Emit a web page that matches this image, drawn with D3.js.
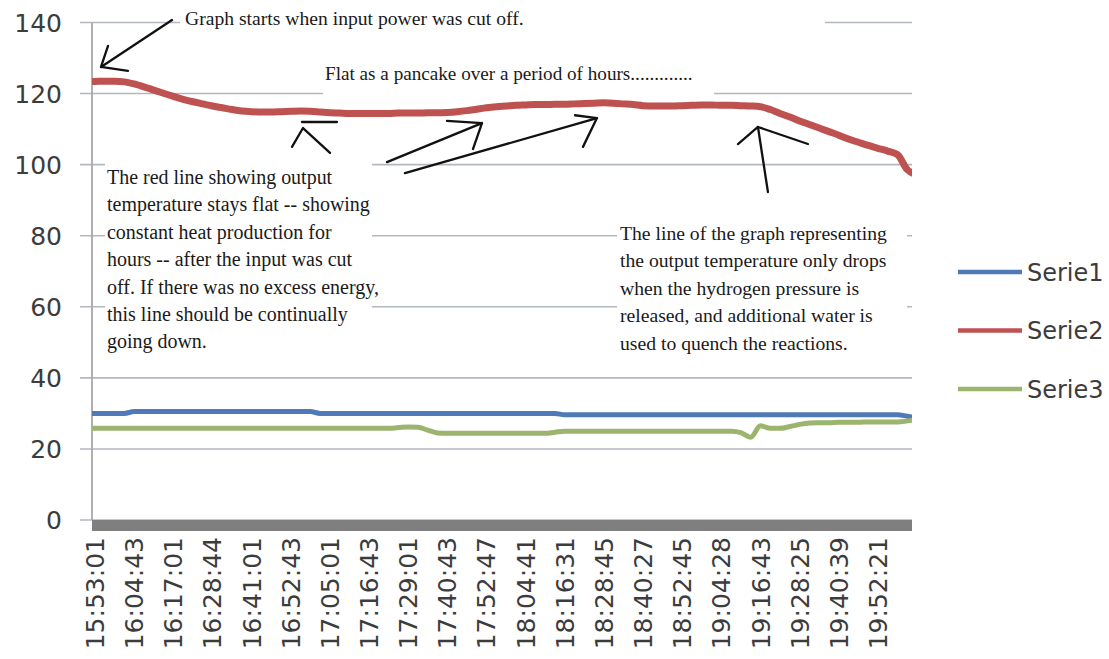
<!DOCTYPE html>
<html>
<head>
<meta charset="utf-8">
<script src="https://cdn.jsdelivr.net/npm/d3@7/dist/d3.min.js"></script>
<style>
  html, body { margin: 0; padding: 0; background: #fff; }
  svg { display: block; }
</style>
</head>
<body>
<svg id="chart" width="1109" height="659"></svg>
<script>
// tick labels on the category axis (one every ~11.7 minutes)
const timeLabels = ['15:53:01', '16:04:43', '16:17:01', '16:28:44', '16:41:01', '16:52:43',
  '17:05:01', '17:16:43', '17:29:01', '17:40:43', '17:52:47', '18:04:41', '18:16:31',
  '18:28:45', '18:40:27', '18:52:45', '19:04:28', '19:16:43', '19:28:25', '19:40:39', '19:52:21'];
const yTicks = [0, 20, 40, 60, 80, 100, 120, 140];
const seriesNames = ['Serie1', 'Serie2', 'Serie3'];

// samples every quarter of a label interval, from -0.25 to 21
const samplePos = d3.range(-1, 85).map(k => k / 4);

const serie1 = [
  30.0, 30.0, 30.0, 30.0, 30.0,
  30.5, 30.5, 30.5, 30.5,
  30.5, 30.5, 30.5, 30.5,
  30.5, 30.5, 30.5, 30.5,
  30.5, 30.5, 30.5, 30.5,
  30.5, 30.5, 30.5, 30.0,
  30.0, 30.0, 30.0, 30.0,
  30.0, 30.0, 30.0, 30.0,
  30.0, 30.0, 30.0, 30.0,
  30.0, 30.0, 30.0, 30.0,
  30.0, 30.0, 30.0, 30.0,
  30.0, 30.0, 30.0, 30.0,
  29.6, 29.6, 29.6, 29.6,
  29.6, 29.6, 29.6, 29.6,
  29.6, 29.6, 29.6, 29.6,
  29.6, 29.6, 29.6, 29.6,
  29.6, 29.6, 29.6, 29.6,
  29.6, 29.6, 29.6, 29.6,
  29.6, 29.6, 29.6, 29.6,
  29.6, 29.6, 29.6, 29.6,
  29.6, 29.6, 29.6, 29.2,
  28.8
];

const serie2 = [
  123.3, 123.4, 123.5, 123.5, 123.3,
  122.7, 121.9, 121.0, 120.1,
  119.2, 118.4, 117.7, 117.1,
  116.5, 116.0, 115.5, 115.1,
  114.9, 114.8, 114.8, 114.9,
  115.0, 115.1, 115.0, 114.8,
  114.6, 114.5, 114.4, 114.4,
  114.4, 114.4, 114.4, 114.5,
  114.5, 114.5, 114.6, 114.6,
  114.7, 114.9, 115.2, 115.6,
  116.0, 116.3, 116.5, 116.7,
  116.8, 116.9, 116.9, 117.0,
  117.0, 117.1, 117.2, 117.3,
  117.4, 117.3, 117.1, 116.9,
  116.6, 116.5, 116.5, 116.5,
  116.6, 116.7, 116.8, 116.8,
  116.7, 116.7, 116.6, 116.5,
  116.3, 115.5, 114.4, 113.4,
  112.3, 111.3, 110.3, 109.3,
  108.3, 107.2, 106.3, 105.4,
  104.6, 103.8, 102.8, 98.6,
  97.2
];

const serie3 = [
  25.8, 25.8, 25.8, 25.8, 25.8,
  25.8, 25.8, 25.8, 25.8,
  25.8, 25.8, 25.8, 25.8,
  25.8, 25.8, 25.8, 25.8,
  25.8, 25.8, 25.8, 25.8,
  25.8, 25.8, 25.8, 25.8,
  25.8, 25.8, 25.8, 25.8,
  25.8, 25.8, 25.8, 26.0,
  26.2, 26.1, 25.3, 24.5,
  24.4, 24.4, 24.4, 24.4,
  24.4, 24.4, 24.4, 24.4,
  24.4, 24.4, 24.4, 24.7,
  25.0, 25.0, 25.0, 25.0,
  25.0, 25.0, 25.0, 25.0,
  25.0, 25.0, 25.0, 25.0,
  25.0, 25.0, 25.0, 25.0,
  25.0, 25.0, 24.6, 23.3,
  26.5, 25.8, 25.8, 26.3,
  26.9, 27.3, 27.4, 27.4,
  27.5, 27.5, 27.5, 27.6,
  27.6, 27.6, 27.6, 27.9,
  28.3
];

// hand drawn arrows, in (category position, value) units
const arrowPaths = [
  [[1.967, 140.7], [0.153, 127.5]],
  [[0.332, 133.4], [0.153, 127.5], [0.843, 126.4]],
  [[5.287, 112.0], [6.181, 112.0]],
  [[5.032, 105.0], [5.313, 110.3], [6.003, 103.3]],
  [[7.458, 100.7], [9.885, 111.7]],
  [[8.991, 112.3], [9.885, 111.7], [9.655, 104.4]],
  [[7.918, 97.6], [12.822, 113.1]],
  [[12.261, 113.9], [12.822, 113.1], [12.465, 105.0]],
  [[17.19, 92.3], [16.935, 110.6]],
  [[16.424, 105.8], [16.935, 110.6], [18.212, 105.8]]
];

const colors = ['#5079b8', '#be5251', '#9bb46e'];
const widths = [5, 7, 5];

const svg = d3.select('#chart');
const plot = { left: 92, right: 912, top: 22.5, bottom: 520 };

const x = d3.scaleLinear().domain([-0.077, 20.87]).range([plot.left, plot.right]);
const y = d3.scaleLinear().domain([0, 140]).range([plot.bottom, plot.top]);

svg.append('defs').append('clipPath').attr('id', 'clip')
  .append('rect')
  .attr('x', plot.left).attr('y', 0)
  .attr('width', plot.right - plot.left).attr('height', plot.bottom);

// gridlines, running out past the axis as tick marks
svg.append('g')
  .selectAll('line')
  .data(yTicks)
  .enter()
  .append('line')
  .attr('x1', 80).attr('x2', plot.right)
  .attr('y1', d => y(d)).attr('y2', d => y(d))
  .attr('stroke', '#b3b8c0')
  .attr('stroke-width', 1.6);

svg.append('line')
  .attr('x1', plot.left).attr('x2', plot.left)
  .attr('y1', plot.top).attr('y2', plot.bottom)
  .attr('stroke', '#a8a8a8')
  .attr('stroke-width', 1.8);

svg.append('g')
  .selectAll('text')
  .data(yTicks)
  .enter()
  .append('text')
  .attr('x', 62)
  .attr('y', d => y(d))
  .attr('dy', '0.36em')
  .attr('text-anchor', 'end')
  .style('font-family', 'DejaVu Sans')
  .style('font-size', '25px')
  .style('fill', '#3c3c3c')
  .text(d => d);

// thick grey band along the category axis
svg.append('rect')
  .attr('x', plot.left).attr('y', y(0))
  .attr('width', plot.right - plot.left).attr('height', 11)
  .attr('fill', '#7f7f7f');

svg.append('g')
  .selectAll('text')
  .data(timeLabels)
  .enter()
  .append('text')
  .attr('transform', (d, i) => `translate(${x(i)}, 537) rotate(-90)`)
  .attr('dy', '0.36em')
  .attr('text-anchor', 'end')
  .style('font-family', 'DejaVu Sans')
  .style('font-size', '25px')
  .style('fill', '#3c3c3c')
  .text(d => d);

// white text boxes that hide the gridlines behind the notes
const boxes = [
  [180, 10, 645, 22],
  [323, 64, 391, 34],
  [105, 159, 267, 205],
  [617, 221, 290, 146]
];
svg.append('g')
  .selectAll('rect')
  .data(boxes)
  .enter()
  .append('rect')
  .attr('x', d => d[0]).attr('y', d => d[1])
  .attr('width', d => d[2]).attr('height', d => d[3])
  .attr('fill', '#fff');

const line = d3.line()
  .x((d, i) => x(samplePos[i]))
  .y(d => y(d))
  .curve(d3.curveMonotoneX);

svg.append('g')
  .attr('clip-path', 'url(#clip)')
  .selectAll('path')
  .data([serie1, serie3, serie2])
  .enter()
  .append('path')
  .attr('d', d => line(d))
  .attr('fill', 'none')
  .attr('stroke', (d, i) => colors[[0, 2, 1][i]])
  .attr('stroke-width', (d, i) => widths[[0, 2, 1][i]])
  .attr('stroke-linejoin', 'round')
  .attr('stroke-linecap', 'round');

// notes
const notes = [
  { x: 185, y: 25, lines: ['Graph starts when input power was cut off.'], fit: 0, width: 339 },
  { x: 325, y: 80, lines: ['Flat as a pancake over a period of hours.............'], fit: 0, width: 368 },
  { x: 107, y: 184, lines: ['The red line showing output', 'temperature stays flat -- showing',
    'constant heat production for', 'hours -- after the input was cut',
    'off. If there was no excess energy,', 'this line should be continually', 'going down.'], fit: 1, width: 263 },
  { x: 620, y: 240, lines: ['The line of the graph representing', 'the output temperature only drops',
    'when the hydrogen pressure is', 'released, and additional water is',
    'used to quench the reactions.'], fit: 0, width: 267 }
];

notes.forEach(n => {
  const t = svg.append('text')
    .attr('x', n.x).attr('y', n.y)
    .style('font-family', '"Liberation Serif"')
    .style('font-size', '16px')
    .style('fill', '#1a1a1a');
  const spans = t.selectAll('tspan')
    .data(n.lines)
    .enter()
    .append('tspan')
    .attr('x', n.x)
    .attr('y', (d, i) => n.y + i * 27.4)
    .text(d => d);
  const w = spans.nodes()[n.fit].getComputedTextLength();
  t.style('font-size', (16 * n.width / w) + 'px');
});

const arrowLine = d3.line().x(d => x(d[0])).y(d => y(d[1]));
svg.append('g')
  .selectAll('path')
  .data(arrowPaths)
  .enter()
  .append('path')
  .attr('d', d => arrowLine(d))
  .attr('fill', 'none')
  .attr('stroke', '#111')
  .attr('stroke-width', 2.3)
  .attr('stroke-linecap', 'round')
  .attr('stroke-linejoin', 'round');

// legend
const legend = svg.append('g')
  .selectAll('g')
  .data(seriesNames)
  .enter()
  .append('g')
  .attr('transform', (d, i) => `translate(958, ${272 + i * 58.5})`);

legend.append('line')
  .attr('x1', 0).attr('x2', 64)
  .attr('stroke', (d, i) => colors[i])
  .attr('stroke-width', 4.5);

legend.append('text')
  .attr('x', 69)
  .attr('dy', '0.36em')
  .style('font-family', 'DejaVu Sans')
  .style('font-size', '24px')
  .style('fill', '#3c3c3c')
  .text(d => d);
</script>
</body>
</html>
